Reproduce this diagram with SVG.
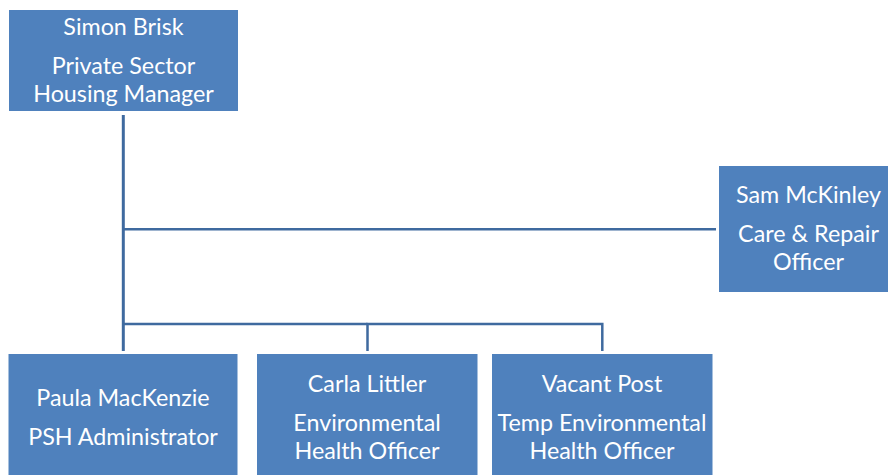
<svg xmlns="http://www.w3.org/2000/svg" width="888" height="475" viewBox="0 0 888 475">
<style>
.box{fill:#4F81BD;}
.t{font-family:Lato,"Open Sans","Liberation Sans",sans-serif;font-size:23.3px;fill:#FFFFFF;text-anchor:middle;}
.c{stroke:#3F6A9F;fill:none;}
</style>
<rect width="888" height="475" fill="#FFFFFF"/>
<g id="connectors">
<line class="c" x1="123.3" y1="115" x2="123.3" y2="351" stroke-width="3"/>
<line class="c" x1="123.3" y1="229.3" x2="716" y2="229.3" stroke-width="2.5"/>
<polyline class="c" points="367.5,351 367.5,324 602.3,324 602.3,351" stroke-width="2.5"/>
<line class="c" x1="123.3" y1="324" x2="367.5" y2="324" stroke-width="2.5"/>
</g>
<g id="simon">
<rect class="box" x="9" y="10" width="229" height="101"/>
<text class="t" x="123.5" y="35">Simon Brisk</text>
<text class="t" x="123.5" y="74">Private Sector</text>
<text class="t" x="123.5" y="102">Housing Manager</text>
</g>
<g id="sam">
<rect class="box" x="719" y="166" width="180" height="126"/>
<text class="t" x="808.5" y="203">Sam McKinley</text>
<text class="t" x="808.5" y="242">Care &amp; Repair</text>
<text class="t" x="808.5" y="270">Officer</text>
</g>
<g id="paula">
<rect class="box" x="8.5" y="354" width="229" height="125"/>
<text class="t" x="123" y="406">Paula MacKenzie</text>
<text class="t" x="123" y="444.5">PSH Administrator</text>
</g>
<g id="carla">
<rect class="box" x="257" y="354" width="220.5" height="125"/>
<text class="t" x="367" y="392">Carla Littler</text>
<text class="t" x="367" y="431">Environmental</text>
<text class="t" x="367" y="459">Health Officer</text>
</g>
<g id="vacant">
<rect class="box" x="492" y="354" width="220.5" height="125"/>
<text class="t" x="602" y="392">Vacant Post</text>
<text class="t" x="602" y="431">Temp Environmental</text>
<text class="t" x="602" y="459">Health Officer</text>
</g>
</svg>
